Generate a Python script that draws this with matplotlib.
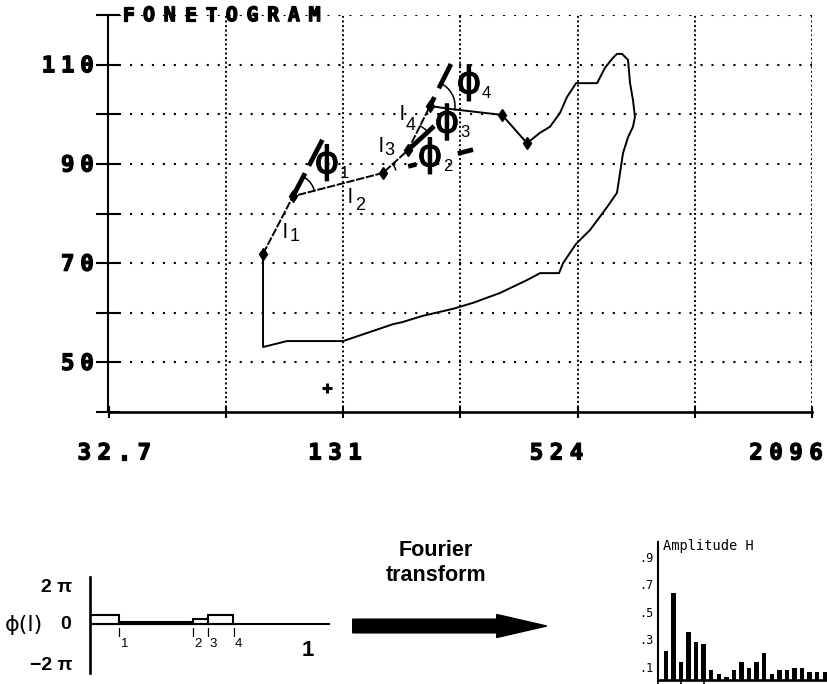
import numpy as np
import matplotlib
matplotlib.use('Agg')
import matplotlib.pyplot as plt
import matplotlib.patheffects as pe
from matplotlib.patches import FancyArrow
from matplotlib.ticker import NullLocator
from matplotlib.transforms import IdentityTransform

plt.rcParams['font.family'] = ['Liberation Sans', 'DejaVu Sans']
plt.rcParams['lines.scale_dashes'] = False

# --- fonetogram data (Hz, dB) ---
contour_hz = [218.6, 246.0, 334.5, 387.8, 418.9, 444.1, 471.2, 491.2, 518.2, 586.6,
              614.8, 644.5, 659.9, 679.8, 691.9, 704.4, 712.9, 725.3, 733.8, 725.3,
              704.4, 683.8, 671.9, 659.9, 622.2, 562.8, 518.2, 479.7, 468.6, 418.9,
              387.8, 330.6, 281.7, 250.4, 209.7, 185.2, 175.6, 130.8, 93.9, 81.5, 81.5]
contour_db = [101.7, 101.1, 99.9, 94.2, 96.3, 97.5, 100.3, 103.5, 106.3, 106.3,
              109.4, 111.4, 112.2, 112.2, 111.6, 111.0, 106.3, 102.9, 99.5, 97.5,
              95.4, 92.2, 88.2, 84.2, 81.3, 76.7, 73.9, 70.0, 68.0, 68.0,
              66.6, 64.0, 62.0, 60.8, 59.4, 58.1, 57.7, 54.3, 54.3, 53.1, 71.9]
# vertices of the segments l1..l4
seg_hz = [81.5, 97.3, 165.6, 191.9, 218.6]
seg_db = [71.9, 83.5, 88.2, 92.8, 101.7]
marker_hz = [81.5, 97.3, 165.6, 191.9, 218.6, 334.5, 387.8]
marker_db = [71.9, 83.5, 88.2, 92.8, 101.7, 99.9, 94.2]
plus_hz, plus_db = 118.7, 44.8

xtick_hz = [32.7, 65.4, 130.8, 261.6, 523.2, 1046.4, 2092.8]
xlabels = ['32.7', '131', '524', '2096']
xlabel_at = [32.7, 130.8, 523.2, 2092.8]
ylabels = ['110', '90', '70', '50']

# --- phase step function ---
l_edges = [0, 0.133, 0.471, 0.540, 0.657]
phi = np.array([0.43, 0.09, 0.23, 0.43]) * np.pi

# --- amplitude spectrum ---
harm = np.arange(1, 23)
amp = [0.213, 0.638, 0.131, 0.349, 0.281, 0.267, 0.078, 0.044, 0.024, 0.078, 0.131,
       0.092, 0.131, 0.199, 0.044, 0.078, 0.078, 0.092, 0.092, 0.063, 0.063, 0.063]

W, H = 827, 684
fig = plt.figure(figsize=(W / 100, H / 100), dpi=100)


def box(l, t, r, b):
    return [l / W, 1 - b / H, (r - l) / W, (b - t) / H]


def spaced(ax, s, xy, coords, dx0, dy, pitch, **kw):
    for i, ch in enumerate(s):
        ax.annotate(ch, xy, xycoords=coords, xytext=(dx0 + i * pitch, dy),
                    textcoords='offset pixels', ha='center', va='center', **kw)


heavy = [pe.withStroke(linewidth=0.9, foreground='k')]
mono = dict(family='DejaVu Sans Mono', fontweight='bold', fontsize=16.2, path_effects=heavy)

# ================= main fonetogram =================
ax = fig.add_axes(box(108.5, 15.2, 812.3, 412))
ax.set_xscale('log', base=2)
ax.set_xlim(32.7, 32.7 * 64)
ax.set_ylim(40, 120)
ax.set_xticks(xtick_hz)
ax.xaxis.set_minor_locator(NullLocator())
ax.set_yticks(np.arange(40, 121, 10))
ax.tick_params(labelbottom=False, labelleft=False)
ax.tick_params(axis='y', direction='inout', length=16.6, width=1.5)
ax.tick_params(axis='x', direction='inout', length=8.6, width=1.5)
for s in ['top', 'right']:
    ax.spines[s].set_visible(False)
ax.spines['left'].set_linewidth(1.5)
ax.spines['bottom'].set_linewidth(1.9)

for v in xtick_hz[1:]:
    ax.axvline(v, color='k', lw=1.4, ls=(0, (1.4, 1.9)), zorder=0)
for v in range(50, 121, 10):
    ax.axhline(v, color='k', lw=1.5, ls=(0, (1.5, 6.4)), zorder=0)

ax.plot(contour_hz, contour_db, color='k', lw=1.4)
ax.plot(seg_hz, seg_db, color='k', lw=1.4, ls=(0, (6, 1.2)))
ax.plot(marker_hz, marker_db, 'kd', ms=6.5)
ax.plot(plus_hz, plus_db, 'k+', ms=7, mew=2.2)

# extensions of each segment (dashed thick) and angle arcs
u = np.log2(seg_hz)
d = np.array(seg_db)
pieces = [[(0, 0.4), (0.53, 0.98)], [(0.28, 0.37), (0.83, 1.0)],
          [(-0.05, 1.05)], [(-0.05, 0.2), (0.4, 0.95)]]
radii = [22, 13, 27, 25]
for k in range(4):
    du, dd = u[k + 1] - u[k], d[k + 1] - d[k]
    for t0, t1 in pieces[k]:
        t = np.array([t0, t1])
        ax.plot(2 ** (u[k + 1] + t * du), d[k + 1] + t * dd, color='k', lw=3.4,
                solid_capstyle='butt')
    V = ax.transData.transform((seg_hz[k + 1], seg_db[k + 1]))
    S = ax.transData.transform((seg_hz[k], seg_db[k]))
    if k < 3:
        N = ax.transData.transform((seg_hz[k + 2], seg_db[k + 2]))
    else:
        N = ax.transData.transform((contour_hz[1], contour_db[1]))
    a1 = np.arctan2(*(V - S)[::-1])
    a2 = np.arctan2(*(N - V)[::-1])
    a = np.linspace(min(a1, a2), max(a1, a2), 30)
    ax.plot(V[0] + radii[k] * np.cos(a), V[1] + radii[k] * np.sin(a), color='k',
            lw=1.1, transform=IdentityTransform())

# labels l1..l4
l_pos = [(91.7, 75.1), (134.7, 82.1), (161.7, 92.4), (183.1, 98.9)]
l_sub = [(7, -3), (7, -7), (5, -3), (6, -10)]
for i, ((lx, ly), (sx, sy)) in enumerate(zip(l_pos, l_sub)):
    ax.annotate('l', (lx, ly), ha='left', va='baseline', fontsize=15)
    ax.annotate(str(i + 1), (lx, ly), xytext=(sx, sy), textcoords='offset pixels',
                ha='left', va='baseline', fontsize=13)

# labels phi1..phi4
phi_pos = [(118.9, 90.2), (218.6, 91.6), (241.7, 98.4), (275.2, 106.3)]
for i, (px, py) in enumerate(phi_pos):
    ax.annotate('ϕ', (px, py), ha='center', va='center', fontsize=27,
                family='DejaVu Sans', path_effects=[pe.withStroke(linewidth=0.8, foreground='k')])
    ax.annotate(str(i + 1), (px, py), xytext=(13, -15), textcoords='offset pixels',
                ha='left', va='baseline', fontsize=12)

# tick labels and title, pixel-font style
xoff = [5.8, -8.1, -21.2, -26.3]
for lab, f, o in zip(xlabels, xlabel_at, xoff):
    n = len(lab)
    spaced(ax, lab, (f, 0), ('data', 'axes fraction'), o - (n - 1) / 2 * 20, -41.5, 20, **mono)
for lab, v in zip(ylabels, [110, 90, 70, 50]):
    n = len(lab)
    spaced(ax, lab, (0, v), ('axes fraction', 'data'), -21.5 - (n - 1) * 19.3, -1.5, 19.3, **mono)
spaced(ax, 'FONETOGRAM', (0, 1), 'axes fraction', 19.8, -0.5, 20.7,
       family='DejaVu Sans Mono', fontweight='bold', fontsize=14.5, path_effects=heavy)

# ================= phase function =================
axp = fig.add_axes(box(90, 577, 330, 673))
axp.set_xlim(0, 1.1)
axp.set_ylim(-2.25 * np.pi, 2.18 * np.pi)
for s in ['top', 'right', 'bottom']:
    axp.spines[s].set_visible(False)
axp.spines['left'].set_linewidth(1.9)
axp.set_xticks([])
axp.set_yticks([])
axp.axhline(0, color='k', lw=1.5)
axp.bar(l_edges[:-1], phi, width=np.diff(l_edges), align='edge', fill=False,
        edgecolor='k', lw=1.5)
tr = ('axes fraction', 'data')
axp.annotate('2 π', (0, 2 * np.pi), xycoords=tr, xytext=(-18, -6.5), textcoords='offset pixels',
             ha='right', va='center', fontsize=14, fontweight='bold')
axp.annotate('−2 π', (0, -2 * np.pi), xycoords=tr, xytext=(-18, 2.3), textcoords='offset pixels',
             ha='right', va='center', fontsize=14, fontweight='bold')
axp.annotate('0', (0, 0), xycoords=tr, xytext=(-24.5, -0.7), textcoords='offset pixels',
             ha='center', va='center', fontsize=14, fontweight='bold')
axp.annotate('ϕ(l)', (0, 0), xycoords=tr, xytext=(-66, -0.7), textcoords='offset pixels',
             ha='center', va='center', fontsize=16, family=['DejaVu Sans'])
axp.annotate('1', (1, 0), xytext=(0, -26.7), textcoords='offset pixels',
             ha='center', va='center', fontsize=16, fontweight='bold')
for i, le in enumerate(l_edges[1:]):
    axp.annotate('l', (le, 0), xytext=(0, -12.7), textcoords='offset pixels',
                 ha='center', va='baseline', fontsize=9.5)
    axp.annotate(str(i + 1), (le, 0), xytext=(1.5, -22.7), textcoords='offset pixels',
                 ha='left', va='baseline', fontsize=9.5)

# ================= arrow =================
fig.add_artist(FancyArrow(3.527, 0.58, 1.94, 0, width=0.137, head_width=0.23,
                          head_length=0.5, length_includes_head=True, color='k',
                          transform=fig.dpi_scale_trans))
fig.text(436 / W, 1 - 563 / H, 'Fourier\ntransform', ha='center', va='center',
         fontsize=15.5, fontweight='bold', linespacing=1.2)

# ================= amplitude spectrum =================
axa = fig.add_axes(box(658.3, 542, 827, 680.4))
axa.bar(harm, amp, width=0.58, color='k')
axa.set_xlim(0, 22.3)
axa.set_ylim(0, 1.006)
for s in ['top', 'right']:
    axa.spines[s].set_visible(False)
axa.spines['left'].set_linewidth(1.5)
axa.spines['bottom'].set_linewidth(1.9)
axa.set_yticks([0.1, 0.3, 0.5, 0.7, 0.9])
axa.set_yticklabels(['.1', '.3', '.5', '.7', '.9'], family='DejaVu Sans Mono', fontsize=8.5)
axa.tick_params(axis='y', length=0, pad=3.6)
axa.set_xticks([0, 3, 6])
axa.set_xticklabels([])
axa.tick_params(axis='x', direction='out', length=3, width=1.2)
axa.text(0.028, 0.971, 'Amplitude H', transform=axa.transAxes, ha='left', va='center',
         family='DejaVu Sans Mono', fontsize=9.8)

fig.savefig('out.png', dpi=100)
